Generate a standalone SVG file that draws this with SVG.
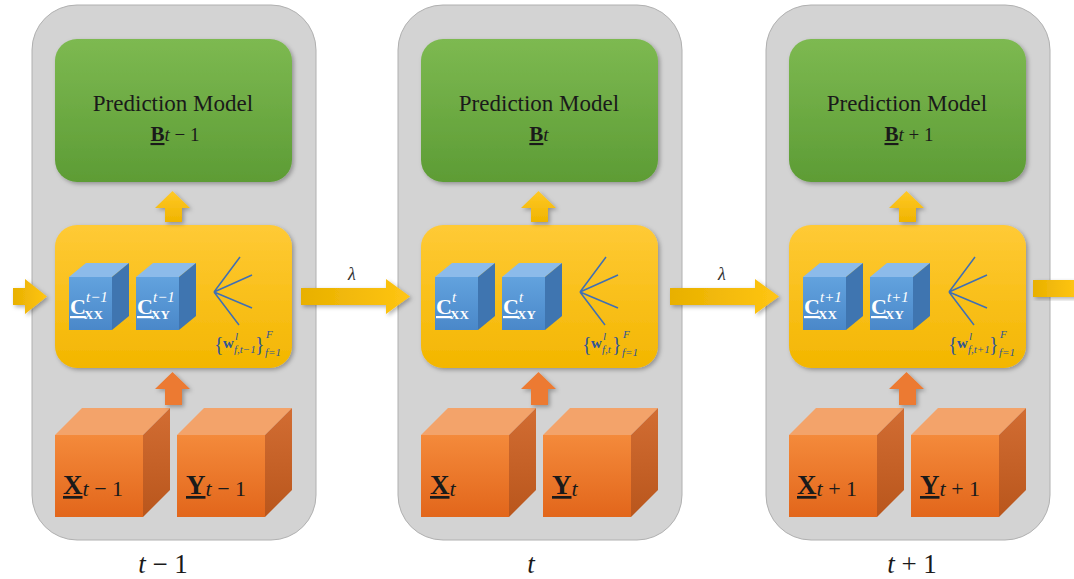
<svg xmlns="http://www.w3.org/2000/svg" width="1074" height="579" viewBox="0 0 1074 579">
<defs>
<linearGradient id="gGreen" x1="0" y1="0" x2="0" y2="1"><stop offset="0" stop-color="#7db951"/><stop offset="1" stop-color="#5d9c35"/></linearGradient>
<linearGradient id="gYellow" x1="0" y1="0" x2="0" y2="1"><stop offset="0" stop-color="#ffca36"/><stop offset="1" stop-color="#f3b600"/></linearGradient>
<linearGradient id="gArrow" x1="0" y1="0" x2="1" y2="0"><stop offset="0" stop-color="#e8b000"/><stop offset="1" stop-color="#ffc514"/></linearGradient>
<linearGradient id="gArrowV" x1="0" y1="1" x2="0" y2="0"><stop offset="0" stop-color="#f0b400"/><stop offset="1" stop-color="#ffc926"/></linearGradient>
<linearGradient id="gOrange" x1="0" y1="0" x2="0" y2="1"><stop offset="0" stop-color="#f48a3b"/><stop offset="1" stop-color="#e2661b"/></linearGradient>
<linearGradient id="gOrangeSide" x1="0" y1="0" x2="0" y2="1"><stop offset="0" stop-color="#d26d33"/><stop offset="1" stop-color="#b9561c"/></linearGradient>
<linearGradient id="gBlue" x1="0" y1="0" x2="0" y2="1"><stop offset="0" stop-color="#62a2de"/><stop offset="1" stop-color="#4a88c9"/></linearGradient>
<filter id="sh" x="-10%" y="-10%" width="130%" height="130%"><feDropShadow dx="2" dy="2" stdDeviation="2" flood-color="#000" flood-opacity="0.3"/></filter>
</defs>
<style>
.panel{fill:#d3d3d3;stroke:#b0b0b0;stroke-width:1}
.green{fill:url(#gGreen);filter:url(#sh)}
.yellow{fill:url(#gYellow);filter:url(#sh)}
.arrow{fill:url(#gArrow);filter:url(#sh)}
.uparrow{fill:url(#gArrowV);filter:url(#sh)}
.oarrow{fill:#ec7a30;filter:url(#sh)}
.ofront{fill:url(#gOrange)}
.otop{fill:#f3a36a}
.oside{fill:url(#gOrangeSide)}
.bfront{fill:url(#gBlue)}
.btop{fill:#8cbbea}
.bside{fill:#3f75b0}
.fan{stroke:#3f6fb5;stroke-width:1.5;fill:none}
.title{font-family:"Liberation Serif",serif;font-size:23px;fill:#1a1a1a;text-anchor:middle}
.bm{font-family:"Liberation Serif",serif;font-size:21px;fill:#1a1a1a;text-anchor:middle}
.ct{font-family:"Liberation Serif",serif;fill:#ffffff}
.ot{font-family:"Liberation Serif",serif;fill:#1a1a1a}
.wl{font-family:"Liberation Serif",serif;fill:#2f5597}
.lab{font-family:"Liberation Serif",serif;font-size:27px;fill:#1a1a1a;text-anchor:middle}
.lam{font-family:"Liberation Serif",serif;font-size:18px;font-style:italic;fill:#333;text-anchor:middle}
.b{font-weight:bold}
.i{font-style:italic}
.u{text-decoration:underline}
</style>

<g id="panel-t-1">
<rect class="panel" x="32" y="5" width="284" height="535" rx="45"/>
</g>
<g id="panel-t">
<rect class="panel" x="398" y="5" width="284" height="535" rx="45"/>
</g>
<g id="panel-t+1">
<rect class="panel" x="766" y="5" width="284" height="535" rx="45"/>
</g>

<g id="model-t-1">
<rect class="green" x="55" y="39" width="237" height="143" rx="22"/>
<text class="title" x="173" y="111">Prediction Model</text>
<text class="bm" x="175" y="141"><tspan class="b u">B</tspan><tspan class="i" font-size="19">t</tspan><tspan font-size="19"> − 1</tspan></text>
</g>
<g id="model-t">
<rect class="green" x="421" y="39" width="237" height="143" rx="22"/>
<text class="title" x="539" y="111">Prediction Model</text>
<text class="bm" x="539" y="141"><tspan class="b u">B</tspan><tspan class="i" font-size="19">t</tspan></text>
</g>
<g id="model-t+1">
<rect class="green" x="789" y="39" width="237" height="143" rx="22"/>
<text class="title" x="907" y="111">Prediction Model</text>
<text class="bm" x="909" y="141"><tspan class="b u">B</tspan><tspan class="i" font-size="19">t</tspan><tspan font-size="19"> + 1</tspan></text>
</g>

<g id="stats-t-1">
<rect class="yellow" x="55" y="225" width="237" height="143" rx="22"/>
<polygon class="btop" points="69,277 86,263 129,263 112,277"/>
<polygon class="bside" points="112,277 129,263 129,316 112,330"/>
<rect class="bfront" x="69" y="277" width="43" height="53"/>
<text class="ct b u" x="70" y="314" font-size="22">C</text>
<text class="ct i" x="86" y="302" font-size="15">t−1</text>
<text class="ct b" x="84" y="319" font-size="13">XX</text>
<polygon class="btop" points="136,277 153,263 196,263 179,277"/>
<polygon class="bside" points="179,277 196,263 196,316 179,330"/>
<rect class="bfront" x="136" y="277" width="43" height="53"/>
<text class="ct b u" x="137" y="314" font-size="22">C</text>
<text class="ct i" x="153" y="302" font-size="15">t−1</text>
<text class="ct b" x="151" y="319" font-size="13">XY</text>
<path class="fan" d="M214,292 L240,257 M214,292 L252,275 M214,292 L252,308 M214,292 L239,325"/>
<text class="wl" x="214" y="351" font-size="20">{</text>
<text class="wl b" x="223" y="348" font-size="15">w</text>
<text class="wl i" x="235" y="340" font-size="11">l</text>
<text class="wl i" x="234" y="353" font-size="11">f,t−1</text>
<text class="wl" x="255" y="351" font-size="20">}</text>
<text class="wl i" x="266" y="338" font-size="11">F</text>
<text class="wl i" x="265" y="356" font-size="11">f=1</text>
</g>
<g id="stats-t">
<rect class="yellow" x="421" y="225" width="237" height="143" rx="22"/>
<polygon class="btop" points="435,277 452,263 495,263 478,277"/>
<polygon class="bside" points="478,277 495,263 495,316 478,330"/>
<rect class="bfront" x="435" y="277" width="43" height="53"/>
<text class="ct b u" x="436" y="314" font-size="22">C</text>
<text class="ct i" x="452" y="302" font-size="15">t</text>
<text class="ct b" x="450" y="319" font-size="13">XX</text>
<polygon class="btop" points="502,277 519,263 562,263 545,277"/>
<polygon class="bside" points="545,277 562,263 562,316 545,330"/>
<rect class="bfront" x="502" y="277" width="43" height="53"/>
<text class="ct b u" x="503" y="314" font-size="22">C</text>
<text class="ct i" x="519" y="302" font-size="15">t</text>
<text class="ct b" x="517" y="319" font-size="13">XY</text>
<path class="fan" d="M580,292 L606,257 M580,292 L618,275 M580,292 L618,308 M580,292 L605,325"/>
<text class="wl" x="582" y="351" font-size="20">{</text>
<text class="wl b" x="591" y="348" font-size="15">w</text>
<text class="wl i" x="603" y="340" font-size="11">l</text>
<text class="wl i" x="602" y="353" font-size="11">f,t</text>
<text class="wl" x="612" y="351" font-size="20">}</text>
<text class="wl i" x="623" y="338" font-size="11">F</text>
<text class="wl i" x="622" y="356" font-size="11">f=1</text>
</g>
<g id="stats-t+1">
<rect class="yellow" x="789" y="225" width="237" height="143" rx="22"/>
<polygon class="btop" points="803,277 820,263 863,263 846,277"/>
<polygon class="bside" points="846,277 863,263 863,316 846,330"/>
<rect class="bfront" x="803" y="277" width="43" height="53"/>
<text class="ct b u" x="804" y="314" font-size="22">C</text>
<text class="ct i" x="820" y="302" font-size="15">t+1</text>
<text class="ct b" x="818" y="319" font-size="13">XX</text>
<polygon class="btop" points="870,277 887,263 930,263 913,277"/>
<polygon class="bside" points="913,277 930,263 930,316 913,330"/>
<rect class="bfront" x="870" y="277" width="43" height="53"/>
<text class="ct b u" x="871" y="314" font-size="22">C</text>
<text class="ct i" x="887" y="302" font-size="15">t+1</text>
<text class="ct b" x="885" y="319" font-size="13">XY</text>
<path class="fan" d="M949,292 L975,257 M949,292 L987,275 M949,292 L987,308 M949,292 L974,325"/>
<text class="wl" x="948" y="351" font-size="20">{</text>
<text class="wl b" x="957" y="348" font-size="15">w</text>
<text class="wl i" x="969" y="340" font-size="11">l</text>
<text class="wl i" x="968" y="353" font-size="11">f,t+1</text>
<text class="wl" x="989" y="351" font-size="20">}</text>
<text class="wl i" x="1000" y="338" font-size="11">F</text>
<text class="wl i" x="999" y="356" font-size="11">f=1</text>
</g>

<g id="data-t-1">
<polygon class="otop" points="55,435 82,408 170,408 143,435"/>
<polygon class="oside" points="143,435 170,408 170,490 143,517"/>
<rect class="ofront" x="55" y="435" width="88" height="82"/>
<text class="ot" x="63" y="494"><tspan class="b u" font-size="27">X</tspan><tspan class="i" font-size="22" dy="2">t</tspan><tspan font-size="22"> − 1</tspan></text>
<polygon class="otop" points="177,435 204,408 292,408 265,435"/>
<polygon class="oside" points="265,435 292,408 292,490 265,517"/>
<rect class="ofront" x="177" y="435" width="88" height="82"/>
<text class="ot" x="186" y="494"><tspan class="b u" font-size="27">Y</tspan><tspan class="i" font-size="22" dy="2">t</tspan><tspan font-size="22"> − 1</tspan></text>
</g>
<g id="data-t">
<polygon class="otop" points="421,435 448,408 536,408 509,435"/>
<polygon class="oside" points="509,435 536,408 536,490 509,517"/>
<rect class="ofront" x="421" y="435" width="88" height="82"/>
<text class="ot" x="430" y="494"><tspan class="b u" font-size="27">X</tspan><tspan class="i" font-size="22" dy="2">t</tspan></text>
<polygon class="otop" points="543,435 570,408 658,408 631,435"/>
<polygon class="oside" points="631,435 658,408 658,490 631,517"/>
<rect class="ofront" x="543" y="435" width="88" height="82"/>
<text class="ot" x="552" y="494"><tspan class="b u" font-size="27">Y</tspan><tspan class="i" font-size="22" dy="2">t</tspan></text>
</g>
<g id="data-t+1">
<polygon class="otop" points="789,435 816,408 904,408 877,435"/>
<polygon class="oside" points="877,435 904,408 904,490 877,517"/>
<rect class="ofront" x="789" y="435" width="88" height="82"/>
<text class="ot" x="797" y="494"><tspan class="b u" font-size="27">X</tspan><tspan class="i" font-size="22" dy="2">t</tspan><tspan font-size="22"> + 1</tspan></text>
<polygon class="otop" points="911,435 938,408 1026,408 999,435"/>
<polygon class="oside" points="999,435 1026,408 1026,490 999,517"/>
<rect class="ofront" x="911" y="435" width="88" height="82"/>
<text class="ot" x="920" y="494"><tspan class="b u" font-size="27">Y</tspan><tspan class="i" font-size="22" dy="2">t</tspan><tspan font-size="22"> + 1</tspan></text>
</g>

<g id="labels">
<text class="lab" x="163" y="573"><tspan class="i">t</tspan> − 1</text>
<text class="lab" x="531" y="573"><tspan class="i">t</tspan></text>
<text class="lab" x="912" y="573"><tspan class="i">t</tspan> + 1</text>
</g>

<g id="connectors">
<path class="uparrow" d="M165,222 V208 H155 L172.5,191 L190,208 H182 V222 Z"/>
<path class="uparrow" d="M531,222 V208 H521 L538.5,191 L556,208 H548 V222 Z"/>
<path class="uparrow" d="M899,222 V208 H889 L906.5,191 L924,208 H916 V222 Z"/>
<path class="oarrow" d="M165,405 V389 H155 L172.5,372 L190,389 H182 V405 Z"/>
<path class="oarrow" d="M531,405 V389 H521 L538.5,372 L556,389 H548 V405 Z"/>
<path class="oarrow" d="M899,405 V389 H889 L906.5,372 L924,389 H916 V405 Z"/>
<path class="arrow" d="M13,288 H25 V279 L47,296.5 L25,314 V305 H13 Z"/>
<path class="arrow" d="M301,288 H386 V279 L410,296.5 L386,314 V305 H301 Z"/>
<path class="arrow" d="M670,288 H755 V279 L779,296.5 L755,314 V305 H670 Z"/>
<path class="arrow" d="M1033,280 H1076 V297 H1033 Z"/>
<text class="lam" x="352" y="280">λ</text>
<text class="lam" x="722" y="280">λ</text>
</g>
</svg>
